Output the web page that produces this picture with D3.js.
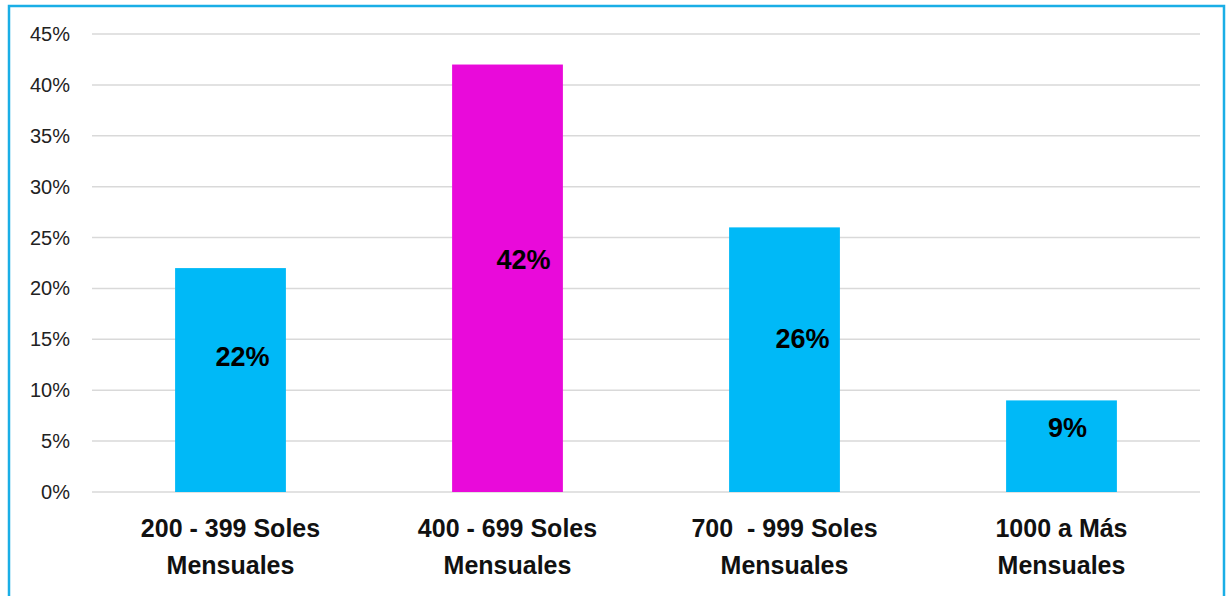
<!DOCTYPE html>
<html>
<head>
<meta charset="utf-8">
<script src="https://cdn.jsdelivr.net/npm/d3@7"></script>
<style>
  body { margin: 0; background: #fff; }
  svg { display: block; font-family: "Liberation Sans", Arial, sans-serif; }
</style>
</head>
<body>
<svg id="chart" width="1230" height="596"></svg>
<script>
// data
const categories = [
  ["200 - 399 Soles", "Mensuales"],
  ["400 - 699 Soles", "Mensuales"],
  ["700  - 999 Soles", "Mensuales"],
  ["1000 a Más", "Mensuales"]
];
const values = [22, 42, 26, 9];
const barColors = ["#00b9f7", "#e90ada", "#00b9f7", "#00b9f7"];
const yTicks = [0, 5, 10, 15, 20, 25, 30, 35, 40, 45];

const margin = { left: 92, right: 30, top: 34, bottom: 104 };
const width = 1230, height = 596;

const svg = d3.select("#chart");

// outer frame (no bottom edge visible)
svg.append("path")
  .attr("d", `M9,600 L9,6 L1224,6 L1224,600`)
  .attr("fill", "none")
  .attr("stroke", "#1aaee6")
  .attr("stroke-width", 2.5);

const x = d3.scaleBand()
  .domain(d3.range(categories.length))
  .range([margin.left, width - margin.right])
  .paddingInner(0.6)
  .paddingOuter(0.3);

const y = d3.scaleLinear()
  .domain([0, 45])
  .range([height - margin.bottom, margin.top]);

// gridlines
svg.append("g")
  .selectAll("line")
  .data(yTicks)
  .join("line")
  .attr("x1", margin.left)
  .attr("x2", width - margin.right)
  .attr("y1", d => y(d))
  .attr("y2", d => y(d))
  .attr("stroke", "#d9d9d9")
  .attr("stroke-width", 1.5);

// y tick labels
svg.append("g")
  .selectAll("text")
  .data(yTicks)
  .join("text")
  .attr("x", 70)
  .attr("y", d => y(d))
  .attr("dy", "0.35em")
  .attr("text-anchor", "end")
  .attr("font-size", 20)
  .attr("fill", "#222")
  .text(d => d + "%");

// bars
svg.append("g")
  .selectAll("rect")
  .data(values)
  .join("rect")
  .attr("x", (d, i) => x(i))
  .attr("width", x.bandwidth())
  .attr("y", d => y(d))
  .attr("height", d => y(0) - y(d))
  .attr("fill", (d, i) => barColors[i]);

// value labels were dragged by hand in the original, nudge them the same way
const nudge = [[12, -4], [16, 0], [18, -2], [6, 0]];
svg.append("g")
  .selectAll("text")
  .data(values)
  .join("text")
  .attr("x", (d, i) => x(i) + x.bandwidth() / 2 + nudge[i][0])
  .attr("y", (d, i) => (y(d) + y(0)) / 2 - 19 + nudge[i][1])
  .attr("dy", "0.35em")
  .attr("text-anchor", "middle")
  .attr("font-size", 27)
  .attr("font-weight", "bold")
  .attr("fill", "#000")
  .text(d => d + "%");

// category labels
const cat = svg.append("g")
  .selectAll("text")
  .data(categories)
  .join("text")
  .attr("x", (d, i) => x(i) + x.bandwidth() / 2)
  .attr("text-anchor", "middle")
  .attr("font-size", 25)
  .attr("font-weight", "bold")
  .attr("fill", "#111");

cat.selectAll("tspan")
  .data(d => d)
  .join("tspan")
  .attr("x", function () { return this.parentNode.getAttribute("x"); })
  .attr("y", (d, j) => 528 + j * 37)
  .attr("dy", "0.35em")
  .attr("xml:space", "preserve")
  .style("white-space", "pre")
  .text(d => d);
</script>
</body>
</html>
